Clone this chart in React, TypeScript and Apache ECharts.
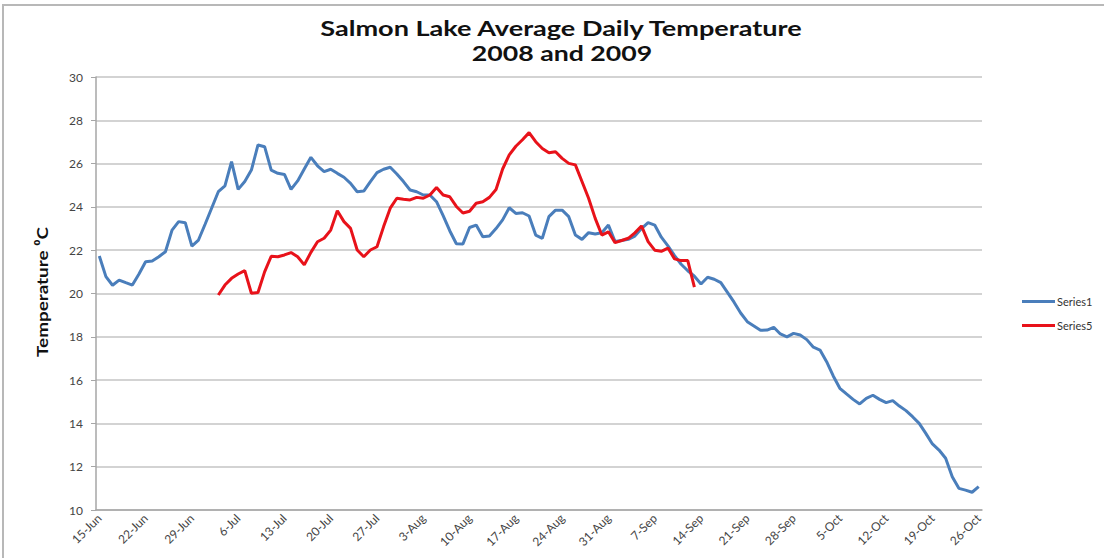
import React, { useEffect, useRef } from "react";
import * as echarts from "echarts";

const START_DATE = { month: 5, day: 15 }; // 15-Jun (month index 5)
const DAY_COUNT = 134; // 15-Jun .. 26-Oct
const MONTHS = ["Jan", "Feb", "Mar", "Apr", "May", "Jun", "Jul", "Aug", "Sep", "Oct", "Nov", "Dec"];

const categories: string[] = (() => {
  const out: string[] = [];
  const d = new Date(2008, START_DATE.month, START_DATE.day);
  for (let i = 0; i < DAY_COUNT; i++) {
    out.push(`${d.getDate()}-${MONTHS[d.getMonth()]}`);
    d.setDate(d.getDate() + 1);
  }
  return out;
})();

const TITLE_LINES = ["Salmon Lake Average Daily Temperature", "2008 and 2009"];
const Y_NAME = "Temperature \u2070C";
const SERIES_NAMES = ["Series1", "Series5"];

const series1: number[] = [
  21.73, 20.78, 20.38, 20.62, 20.5, 20.39, 20.9, 21.47, 21.5, 21.7,
  21.93, 22.93, 23.32, 23.27, 22.19, 22.47, 23.2, 23.95, 24.7, 24.97,
  26.09, 24.81, 25.17, 25.7, 26.86, 26.78, 25.7, 25.55, 25.5, 24.81,
  25.2, 25.75, 26.29, 25.9, 25.63, 25.74, 25.55, 25.37, 25.09, 24.7,
  24.73, 25.17, 25.58, 25.74, 25.83, 25.52, 25.17, 24.78, 24.7, 24.55,
  24.55, 24.24, 23.6, 22.9, 22.3, 22.29, 23.05, 23.16, 22.62, 22.66,
  23.0, 23.4, 23.96, 23.7, 23.73, 23.58, 22.7, 22.55, 23.55, 23.85,
  23.85, 23.55, 22.7, 22.5, 22.81, 22.75, 22.81, 23.16, 22.4, 22.45,
  22.5, 22.65, 23.0, 23.27, 23.16, 22.6, 22.2, 21.75, 21.35, 21.05,
  20.8, 20.44, 20.75, 20.66, 20.5, 20.05, 19.6, 19.1, 18.7, 18.5,
  18.3, 18.31, 18.44, 18.13, 18.0, 18.16, 18.08, 17.87, 17.52, 17.39,
  16.85, 16.19, 15.62, 15.36, 15.11, 14.9, 15.16, 15.3, 15.11, 14.96,
  15.05, 14.8, 14.59, 14.31, 14.0, 13.54, 13.05, 12.77, 12.39, 11.54,
  11.0, 10.92, 10.82, 11.08,
];

const SERIES5_OFFSET = 18; // first value on 3-Jul
const series5Values: number[] = [
  19.93, 20.39, 20.7, 20.9, 21.06, 20.01, 20.05, 21.0, 21.72, 21.7,
  21.78, 21.89, 21.7, 21.32, 21.9, 22.39, 22.55, 22.93, 23.82, 23.32,
  23.01, 22.01, 21.7, 22.01, 22.16, 23.09, 23.94, 24.4, 24.35, 24.32,
  24.44, 24.4, 24.55, 24.9, 24.55, 24.47, 24.02, 23.72, 23.8, 24.17,
  24.24, 24.44, 24.8, 25.75, 26.4, 26.8, 27.1, 27.43, 27.01, 26.7,
  26.5, 26.55, 26.24, 26.01, 25.94, 25.17, 24.4, 23.47, 22.7, 22.85,
  22.35, 22.45, 22.55, 22.8, 23.12, 22.4, 22.0, 21.95, 22.1, 21.6,
  21.52, 21.52, 20.29,
];

const series5: (number | null)[] = categories.map((_, i) => {
  const j = i - SERIES5_OFFSET;
  return j >= 0 && j < series5Values.length ? series5Values[j] : null;
});

const FONT = "Lato, 'Open Sans', sans-serif";

export default function App() {
  const ref = useRef<HTMLDivElement>(null);
  useEffect(() => {
    document.body.style.margin = "0";
    if (!ref.current) return;
    const chart = echarts.init(ref.current, undefined, { renderer: "svg" });
    chart.setOption({
      animation: false,
      backgroundColor: "#ffffff",
      graphic: [
        {
          type: "rect",
          shape: { x: 3, y: 5, width: 1110, height: 600 },
          style: { fill: "none", stroke: "#b8b8b8", lineWidth: 2 },
          silent: true,
        },
        {
          type: "text",
          x: 561,
          y: 28,
          scaleX: 1.29,
          style: {
            text: TITLE_LINES[0],
            font: `bold 21px ${FONT}`,
            fill: "#111",
            align: "center",
            verticalAlign: "middle",
          },
        },
        {
          type: "text",
          x: 562,
          y: 53,
          scaleX: 1.27,
          style: {
            text: TITLE_LINES[1],
            font: `bold 21px ${FONT}`,
            fill: "#111",
            align: "center",
            verticalAlign: "middle",
          },
        },
        {
          type: "text",
          x: 42,
          y: 292,
          rotation: Math.PI / 2,
          scaleX: 1.18,
          style: {
            text: Y_NAME,
            font: `bold 16px ${FONT}`,
            fill: "#111",
            align: "center",
            verticalAlign: "middle",
          },
        },
      ],
      legend: {
        orient: "vertical",
        left: 1017,
        top: 291,
        icon: "rect",
        itemWidth: 33,
        itemHeight: 3,
        itemGap: 13,
        textStyle: { fontFamily: FONT, fontSize: 11, color: "#333", padding: [0, 0, 0, -3] },
        data: SERIES_NAMES,
      },
      grid: { left: 96, top: 77, width: 886, height: 433, containLabel: false },
      xAxis: {
        type: "category",
        data: categories,
        boundaryGap: true,
        axisLine: { lineStyle: { color: "#a6a6a6", width: 1.5 } },
        axisTick: { interval: 6, length: 4, lineStyle: { color: "#a6a6a6" } },
        axisLabel: {
          interval: 6,
          rotate: 45,
          margin: 6,
          fontFamily: FONT,
          fontSize: 12,
          color: "#444",
        },
        splitLine: { show: false },
      },
      yAxis: {
        type: "value",
        min: 10,
        max: 30,
        interval: 2,
        axisLine: { show: true, lineStyle: { color: "#a6a6a6", width: 1.5 } },
        axisTick: { show: true, length: 5, lineStyle: { color: "#a6a6a6" } },
        axisLabel: { fontFamily: FONT, fontSize: 12, color: "#444", margin: 13 },
        splitLine: { lineStyle: { color: "#c4c4c4", width: 1.5 } },
      },
      series: [
        {
          name: SERIES_NAMES[0],
          type: "line",
          data: series1,
          symbol: "none",
          lineStyle: { color: "#4a7ebb", width: 3 },
          itemStyle: { color: "#4a7ebb" },
          z: 2,
        },
        {
          name: SERIES_NAMES[1],
          type: "line",
          data: series5,
          symbol: "none",
          connectNulls: false,
          lineStyle: { color: "#e8121a", width: 3 },
          itemStyle: { color: "#e8121a" },
          z: 3,
        },
      ],
    });
    return () => chart.dispose();
  }, []);
  return (
    <div
      ref={ref}
      style={{ position: "absolute", left: 0, top: 0, width: 1104, height: 558 }}
    />
  );
}
